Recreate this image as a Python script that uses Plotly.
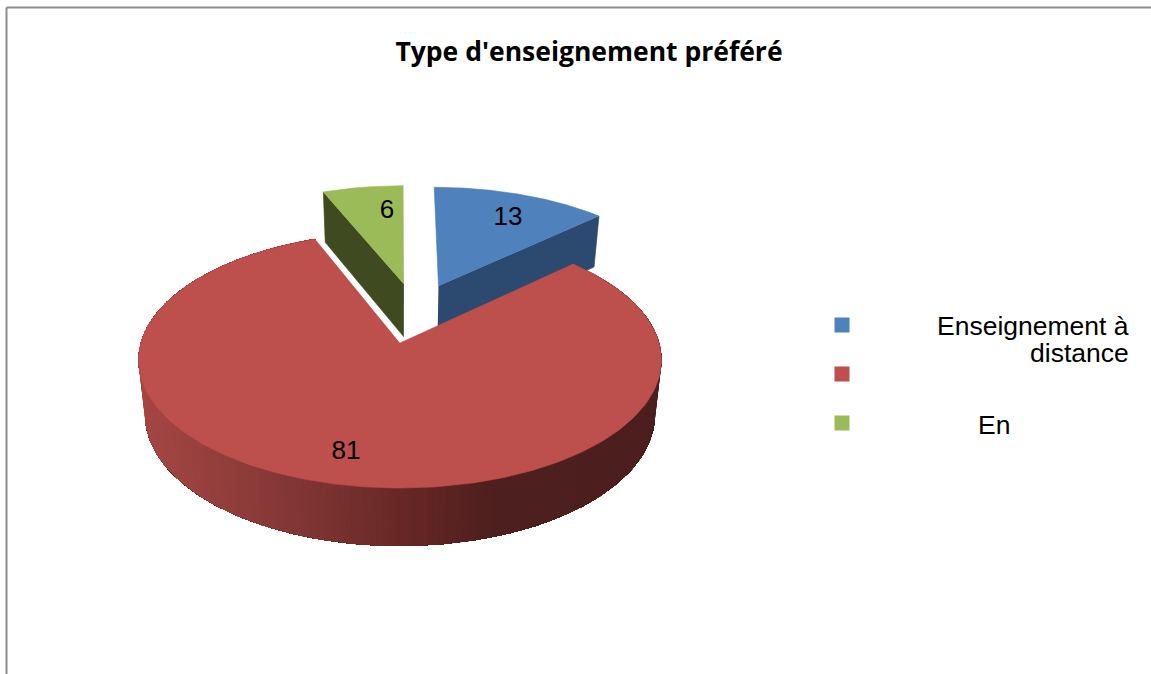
import numpy as np
import plotly.graph_objects as go

# ---- data ----
categories = ["Enseignement à distance", "", "En"]
values = [13, 81, 6]
legend_lines = [["Enseignement à", "distance"], [], ["En"]]
title_text = "Type d'enseignement préféré"

# ---- styles ----
top_colors = ["#4F81BD", "#BD4F4C", "#9BBB59"]
cut_colors = ["#2C4A70", None, "#3F4A20"]
offsets = [(0.158, -0.482), (0.0, 0.0), (0.016, -0.50)]   # explosion in the disc plane
label_xy = [(508, 218), (346, 452), (387, 211)]
W, H = 1151, 674
CX, CY, RX, RY, TILT = 400.0, 360.0, 261.5, 128.0, 0.133
BRX, BRY, DEPTH = 255.0, 131.3, 54.7
grad_x = [140, 300, 400, 490, 660]
grad_r = [165, 128, 104, 78, 76]
grad_g = [71, 54, 40, 32, 31]
grad_b = [68, 52, 38, 31, 30]


def persp(u, v):
    """unit-disc plane -> normalised ellipse plane (perspective tilt)."""
    den = 1 - TILT * v
    return u * np.sqrt(1 - TILT ** 2) / den, (v - TILT) / den


def top(u, v):
    X, Y = persp(np.asarray(u, float), np.asarray(v, float))
    return CX + RX * X, CY + RY * Y


def bot(u, v):
    X, Y = persp(np.asarray(u, float), np.asarray(v, float))
    return CX + BRX * X, CY + DEPTH + BRY * Y


def poly(xs, ys, color, name="", lw=0.6):
    return go.Scatter(x=list(xs), y=list(ys), mode="lines", fill="toself", fillcolor=color,
                      line=dict(color=color, width=lw), hoverinfo="skip", name=name, showlegend=False)


# slice angles, clockwise from 12 o'clock
total = sum(values)
edges = np.cumsum([0] + values) / total * 2 * np.pi
slices = []
for i in range(len(values)):
    t = np.linspace(edges[i], edges[i + 1], 240)
    ox, oy = offsets[i]
    slices.append((t, ox + np.sin(t), oy - np.cos(t), ox, oy))

fig = go.Figure()


def add_cut_face(i, at_end):
    t, u, v, ox, oy = slices[i]
    k = -1 if at_end else 0
    tx = [top(ox, oy)[0], top(u[k], v[k])[0]]
    ty = [top(ox, oy)[1], top(u[k], v[k])[1]]
    bx = [bot(u[k], v[k])[0], bot(ox, oy)[0]]
    by = [bot(u[k], v[k])[1], bot(ox, oy)[1]]
    fig.add_trace(poly(tx + bx, ty + by, cut_colors[i]))


def add_top(i):
    t, u, v, ox, oy = slices[i]
    x, y = top(np.r_[ox, u], np.r_[oy, v])
    fig.add_trace(poly(x, y, top_colors[i], categories[i]))


# green
add_cut_face(2, False)
add_top(2)
# blue
add_cut_face(0, True)
add_top(0)
# red rim: strips overlap so that no seams show; each strip is painted over the previous one
t, u, v, ox, oy = slices[1]
tx, ty = top(u, v)
bx, by = bot(u, v)
n = len(t)
for j in range(0, n - 1):
    e = n - 1
    mx = tx[min(j + 1, n - 1)]
    c = "rgb(%d,%d,%d)" % (np.interp(mx, grad_x, grad_r), np.interp(mx, grad_x, grad_g), np.interp(mx, grad_x, grad_b))
    # from this angle to the far end of the arc, later strips cover the rest
    fig.add_trace(poly(np.r_[tx[j:e + 1], bx[j:e + 1][::-1]], np.r_[ty[j:e + 1], by[j:e + 1][::-1]], c, lw=0))
add_top(1)

# data labels
fig.add_trace(go.Scatter(x=[p[0] for p in label_xy], y=[p[1] for p in label_xy], mode="text",
                         text=[str(v) for v in values], textposition="middle center",
                         textfont=dict(family="Liberation Sans", size=26, color="#000000"),
                         hoverinfo="skip", showlegend=False))

# legend
legend_y = [325, 374, 423]
fig.add_trace(go.Scatter(x=[842] * 3, y=legend_y, mode="markers", hoverinfo="text", text=categories,
                         marker=dict(symbol="square", size=15, color=top_colors, line=dict(width=0)),
                         showlegend=False))
annotations = [
    dict(x=1131, y=326, text=legend_lines[0][0], xanchor="right", yanchor="middle"),
    dict(x=1131, y=353, text=legend_lines[0][1], xanchor="right", yanchor="middle"),
    dict(x=1012, y=425, text=legend_lines[2][0], xanchor="right", yanchor="middle"),
]
for a in annotations:
    a.update(xref="x", yref="y", showarrow=False, font=dict(family="Liberation Sans", size=26.5, color="#000000"))

fig.update_layout(
    width=W, height=H, margin=dict(l=0, r=0, t=0, b=0), autosize=False,
    paper_bgcolor="#ffffff", plot_bgcolor="#ffffff", showlegend=False,
    title=dict(text="<b>%s</b>" % title_text, x=589 / W, xanchor="center", y=1 - 52 / H, yanchor="middle",
               font=dict(family="Open Sans", size=26.5, color="#000000")),
    xaxis=dict(range=[0, W], visible=False, fixedrange=True),
    yaxis=dict(range=[H, 0], visible=False, fixedrange=True),
    annotations=annotations,
    shapes=[
        dict(type="line", xref="x", yref="y", x0=6.5, y0=7.5, x1=W, y1=7.5, line=dict(color="#8C8C8C", width=2)),
        dict(type="line", xref="x", yref="y", x0=6.5, y0=7.5, x1=6.5, y1=H, line=dict(color="#8C8C8C", width=2)),
    ],
)
fig.write_html("out.html", config=dict(displayModeBar=False),
               post_script="document.body.style.margin='0';document.body.style.overflow='hidden';")
